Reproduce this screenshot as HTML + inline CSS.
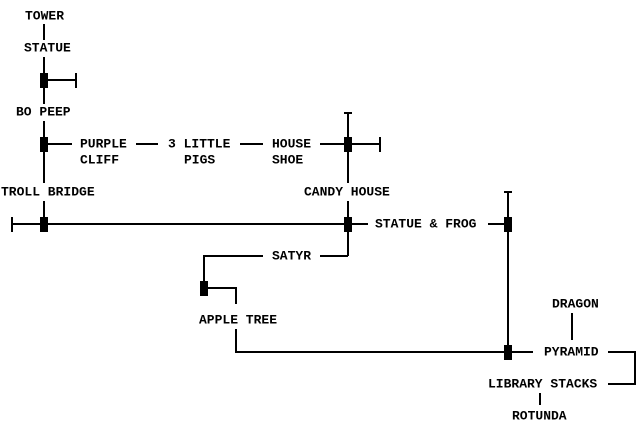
<!DOCTYPE html>
<html><head><style>
html,body{margin:0;padding:0;background:#fff;}
svg{display:block}
text{font-family:"Liberation Mono",monospace;font-weight:bold;font-size:13px;fill:#000;dominant-baseline:central}
</style></head><body>
<svg width="640" height="431" viewBox="0 0 640 431" xmlns="http://www.w3.org/2000/svg">
<g stroke="#000" stroke-width="2" fill="none">
<line x1="44" y1="24" x2="44" y2="40"/>
<line x1="44" y1="57" x2="44" y2="104"/>
<line x1="48" y1="80" x2="76" y2="80"/><line x1="76" y1="73" x2="76" y2="88"/>
<line x1="44" y1="121" x2="44" y2="183"/>
<line x1="48" y1="144" x2="72" y2="144"/>
<line x1="136" y1="144" x2="158" y2="144"/>
<line x1="240" y1="144" x2="263" y2="144"/>
<line x1="320" y1="144" x2="344" y2="144"/>
<line x1="352" y1="144" x2="380" y2="144"/><line x1="380" y1="137" x2="380" y2="152"/>
<line x1="348" y1="113" x2="348" y2="183"/><line x1="344" y1="113" x2="352" y2="113"/>
<line x1="44" y1="201" x2="44" y2="224"/>
<line x1="348" y1="201" x2="348" y2="256"/>
<line x1="12" y1="224" x2="368" y2="224"/><line x1="12" y1="217" x2="12" y2="232"/>
<line x1="488" y1="224" x2="505" y2="224"/>
<line x1="508" y1="192" x2="508" y2="352"/><line x1="504" y1="192" x2="512" y2="192"/>
<line x1="320" y1="256" x2="348" y2="256"/>
<polyline points="263,256 204,256 204,285"/>
<polyline points="208,288 236,288 236,304"/>
<polyline points="236,329 236,352 504,352"/>
<line x1="512" y1="352" x2="533" y2="352"/>
<polyline points="608,352 635,352 635,384 608,384"/>
<line x1="572" y1="313" x2="572" y2="340"/>
<line x1="540" y1="393" x2="540" y2="405"/>
</g>
<g fill="#000">
<rect x="40" y="73" width="8" height="15"/>
<rect x="40" y="137" width="8" height="15"/>
<rect x="344" y="137" width="8" height="15"/>
<rect x="40" y="217" width="8" height="15"/>
<rect x="344" y="217" width="8" height="15"/>
<rect x="504" y="217" width="8" height="15"/>
<rect x="200" y="281" width="8" height="15"/>
<rect x="504" y="345" width="8" height="15"/>
</g>
<text x="25" y="16">TOWER</text>
<text x="24" y="48">STATUE</text>
<text x="16" y="112">BO PEEP</text>
<text x="80" y="144">PURPLE</text>
<text x="80" y="160">CLIFF</text>
<text x="168" y="144">3 LITTLE</text>
<text x="184" y="160">PIGS</text>
<text x="272" y="144">HOUSE</text>
<text x="272" y="160">SHOE</text>
<text x="1" y="192">TROLL BRIDGE</text>
<text x="304" y="192">CANDY HOUSE</text>
<text x="375" y="224">STATUE &amp; FROG</text>
<text x="272" y="256">SATYR</text>
<text x="199" y="320">APPLE TREE</text>
<text x="552" y="304">DRAGON</text>
<text x="544" y="352">PYRAMID</text>
<text x="488" y="384">LIBRARY STACKS</text>
<text x="512" y="416">ROTUNDA</text>
</svg>
</body></html>
